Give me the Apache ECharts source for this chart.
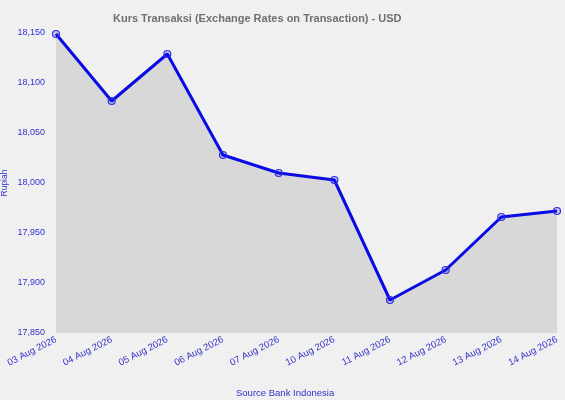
<!DOCTYPE html>
<html><head><meta charset="utf-8">
<script src="https://cdn.jsdelivr.net/npm/echarts@6/dist/echarts.min.js"></script>
<style>html,body{margin:0;padding:0;background:#f0f0f0}#c{width:565px;height:400px}</style>
</head><body><div id="c"></div>
<script>
const categories = ['03 Aug 2026','04 Aug 2026','05 Aug 2026','06 Aug 2026','07 Aug 2026','10 Aug 2026','11 Aug 2026','12 Aug 2026','13 Aug 2026','14 Aug 2026'];
const rates = [18149, 18082, 18129, 18028, 18010, 18003, 17883, 17913, 17966, 17972];
const yMin = 17850, yMax = 18150, yStep = 50;

const chart = echarts.init(document.getElementById('c'));
chart.setOption({
  backgroundColor: '#f0f0f0',
  animation: false,
  title: {
    text: 'Kurs Transaksi (Exchange Rates on Transaction) - USD',
    left: 108, top: 8,
    textStyle: {fontFamily: 'Liberation Sans, Arial', fontSize: 11, fontWeight: 'bold', color: '#707070'}
  },
  graphic: [{
    type: 'text', left: 236, top: 388,
    style: {text: 'Source Bank Indonesia', fill: '#3030cc', font: '9.5px "Liberation Sans", Arial'}
  }],
  grid: {left: 56, right: 8, top: 33, bottom: 67, outerBoundsMode: 'none', containLabel: false},
  xAxis: {
    type: 'category', data: categories, boundaryGap: false,
    axisLine: {show: false}, axisTick: {show: false}, splitLine: {show: false},
    axisLabel: {rotate: 27, color: '#3333cc', fontFamily: 'Liberation Sans, Arial', fontSize: 9.5, margin: 6, interval: 0}
  },
  yAxis: {
    type: 'value', min: yMin, max: yMax, interval: yStep,
    name: 'Rupiah', nameLocation: 'middle', nameGap: 47, nameMoveOverlap: false,
    nameTextStyle: {color: '#3030cc', fontFamily: 'Liberation Sans, Arial', fontSize: 8.5},
    axisLine: {show: false}, axisTick: {show: false}, splitLine: {show: false},
    axisLabel: {color: '#3333cc', fontFamily: 'Liberation Sans, Arial', fontSize: 9, margin: 11,
      formatter: v => v.toLocaleString('en-US')}
  },
  series: [{
    type: 'line', data: rates,
    symbol: 'circle', symbolSize: 7, showAllSymbol: true,
    itemStyle: {color: 'rgba(0,0,238,0.2)', borderColor: '#3030e0', borderWidth: 1.2},
    lineStyle: {color: '#0a0ae6', width: 3},
    areaStyle: {color: '#d8d8d8', opacity: 1},
    emphasis: {disabled: true}
  }]
});
</script></body></html>
